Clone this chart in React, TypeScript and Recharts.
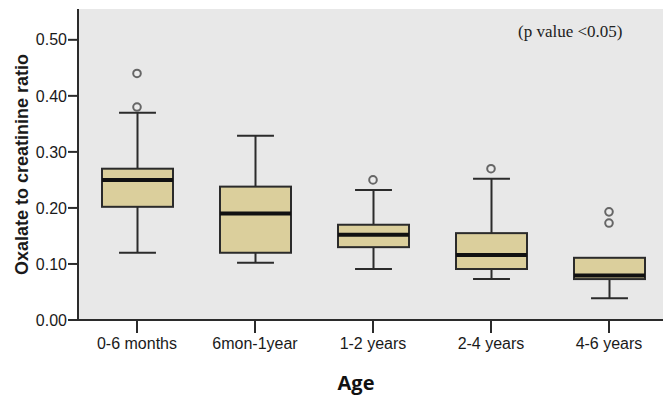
import {
  ComposedChart,
  Bar,
  Scatter,
  XAxis,
  YAxis,
  CartesianGrid,
} from "recharts";

const categories = ["0-6 months", "6mon-1year", "1-2 years", "2-4 years", "4-6 years"];
const whiskerLow = [0.12, 0.102, 0.091, 0.073, 0.039];
const quartile1 = [0.202, 0.12, 0.13, 0.091, 0.073];
const medians = [0.25, 0.19, 0.152, 0.116, 0.0795];
const quartile3 = [0.27, 0.238, 0.17, 0.155, 0.111];
const whiskerHigh = [0.37, 0.329, 0.232, 0.252, 0.111];
const outlierA = [0.44, null, 0.25, 0.27, 0.193];
const outlierB = [0.38, null, null, null, 0.173];
const yTicks = [0, 0.1, 0.2, 0.3, 0.4, 0.5];

const data = categories.map((name, i) => ({
  name,
  low: whiskerLow[i],
  q1: quartile1[i],
  median: medians[i],
  q3: quartile3[i],
  high: whiskerHigh[i],
  range: [whiskerLow[i], whiskerHigh[i]],
  outA: outlierA[i],
  outB: outlierB[i],
}));

const INK = "#2b2b2b";
const SANS = '"Liberation Sans", Arial, sans-serif';

function BoxShape(props: any) {
  const { x, y, width, height, payload } = props;
  const { low, q1, median, q3, high } = payload;
  // the bar spans low..high, so map values inside it linearly
  const py = (v: number) => (high === low ? y : y + ((high - v) / (high - low)) * height);
  const cx = x + width / 2;
  const cap = width * 0.52;
  return (
    <g>
      {high > q3 && (
        <>
          <line x1={cx} x2={cx} y1={py(high)} y2={py(q3)} stroke={INK} strokeWidth={2} />
          <line x1={cx - cap / 2} x2={cx + cap / 2} y1={py(high)} y2={py(high)} stroke={INK} strokeWidth={2} />
        </>
      )}
      {low < q1 && (
        <>
          <line x1={cx} x2={cx} y1={py(q1)} y2={py(low)} stroke={INK} strokeWidth={2} />
          <line x1={cx - cap / 2} x2={cx + cap / 2} y1={py(low)} y2={py(low)} stroke={INK} strokeWidth={2} />
        </>
      )}
      <rect
        x={x}
        y={py(q3)}
        width={width}
        height={py(q1) - py(q3)}
        fill="#dbcf9c"
        stroke={INK}
        strokeWidth={2}
      />
      <line x1={x} x2={x + width} y1={py(median)} y2={py(median)} stroke="#111" strokeWidth={4} />
    </g>
  );
}

function outlierShape(key: "outA" | "outB") {
  return (props: any) => {
    const { cx, cy, payload } = props;
    if (payload == null || payload[key] == null) return <g />;
    return <circle cx={cx} cy={cy} r={3.8} fill="#ececec" stroke="#666" strokeWidth={2} />;
  };
}

export default function App() {
  return (
    <div style={{ position: "absolute", left: 0, top: 0, width: 663, height: 396, overflow: "hidden", background: "#fff" }}>
      <ComposedChart
        width={670}
        height={396}
        data={data}
        margin={{ top: 9, right: 2, left: 0, bottom: 0 }}
        barSize={71}
      >
        <CartesianGrid fill="#e8e8e8" horizontal={false} vertical={false} />
        <XAxis
          xAxisId="top"
          orientation="top"
          dataKey="name"
          height={0}
          tick={false}
          tickLine={false}
          axisLine={{ stroke: INK, strokeWidth: 2 }}
        />
        <XAxis
          dataKey="name"
          height={76}
          interval={0}
          allowDuplicatedCategory={false}
          tickSize={13}
          tickMargin={5}
          tickLine={{ stroke: INK, strokeWidth: 2 }}
          axisLine={{ stroke: INK, strokeWidth: 2 }}
          tick={{ fill: "#1a1a1a", fontSize: 16, fontFamily: SANS }}
          label={(p: any) => {
            const vb = p.viewBox;
            return (
              <text
                x={vb.x + vb.width / 2 - 17}
                y={vb.y + 70}
                textAnchor="middle"
                fontFamily='"Open Sans", sans-serif'
                fontWeight={700}
                fontSize={20}
                fill="#111"
              >
                Age
              </text>
            );
          }}
        />
        <YAxis
          width={78}
          domain={[0, 0.555]}
          ticks={yTicks}
          interval={0}
          tickFormatter={(v: number) => v.toFixed(2)}
          tickSize={10}
          tickMargin={1}
          tickLine={{ stroke: INK, strokeWidth: 2 }}
          axisLine={{ stroke: INK, strokeWidth: 2 }}
          tick={{ fill: "#1a1a1a", fontSize: 16, fontFamily: SANS }}
          label={(p: any) => {
            const vb = p.viewBox;
            const cy = vb.y + vb.height / 2;
            return (
              <text
                x={28}
                y={cy}
                transform={`rotate(-90 28 ${cy})`}
                textAnchor="middle"
                fontFamily={SANS}
                fontWeight={700}
                fontSize={18}
                fill="#1a1a1a"
              >
                Oxalate to creatinine ratio
              </text>
            );
          }}
        />
        <Bar dataKey="range" shape={BoxShape} isAnimationActive={false} />
        <Scatter dataKey="outA" shape={outlierShape("outA")} isAnimationActive={false} />
        <Scatter dataKey="outB" shape={outlierShape("outB")} isAnimationActive={false} />
      </ComposedChart>
      <div
        style={{
          position: "absolute",
          left: 518,
          top: 22,
          fontFamily: '"Liberation Serif", "Times New Roman", serif',
          fontSize: 17,
          color: "#222",
          whiteSpace: "nowrap",
        }}
      >
        (p value &lt;0.05)
      </div>
    </div>
  );
}
